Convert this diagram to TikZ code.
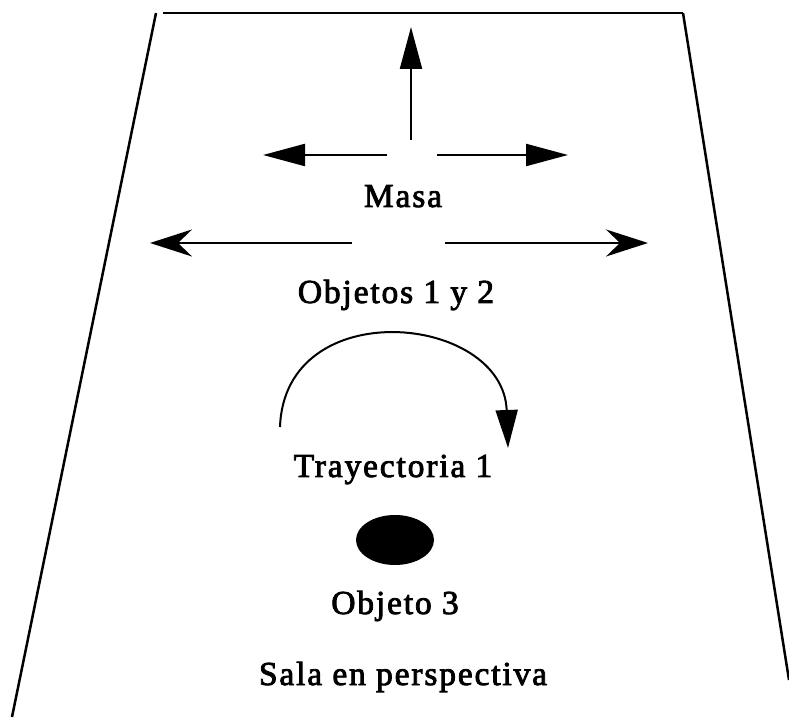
\documentclass[tikz,border=0pt]{standalone}
\usepackage{fontspec}
\setmainfont[LetterSpace=5.5, FakeBold=2.5]{Liberation Serif}
\newcommand{\masadraw}[2]{%
  \draw[masaflecha] (#1) -- (#2);
}
\usepackage{tikz}
\usetikzlibrary{
  arrows.meta,
  calc,
  positioning
}

\begin{document}
\begin{tikzpicture}[x=1pt, y=1pt]

\tikzset{
  rotulo/.style={
    anchor=base,
    inner sep=0pt,
    font=\fontsize{33.5}{39}\selectfont
},
  pared/.style={
    line width=2.5pt,
    line join=miter
},
  masaflecha/.style={
    -{Triangle[length=42pt, width=22pt]},
    line width=2.2pt
},
  objflecha/.style={
    -{Stealth[length=42pt, width=27pt, inset=14pt]},
    line width=2.2pt
},
  trayflecha/.style={
    -{Triangle[length=38pt, width=22pt]},
    line width=2pt
},
  line width=1pt
}

\useasboundingbox (0,0) rectangle (789,717);

% NODES ----------------------------------------------------------

% Nodes texts
\node[rotulo] (masa)  at (403, 510) {Masa};
\node[rotulo] (obj12) at (396, 414) {Objetos 1 y 2};
\node[rotulo] (tray1) at (393, 240) {Trayectoria 1};
\node[rotulo] (obj3)  at (395, 103) {Objeto 3};
\node[rotulo] (sala)  at (403,  32) {Sala en perspectiva};

% Node object 3 (ellipse)
\fill (395, 177) ellipse [x radius=39, y radius=25];

% Coordinates arrows
\coordinate (masac)  at (411, 577);
\coordinate (masan)  at (411, 690);
\coordinate (masaw0) at (387, 562);
\coordinate (masaw)  at (263, 562);
\coordinate (masae0) at (437, 562);
\coordinate (masae)  at (568, 562);
\coordinate (objw0)  at (352, 474);
\coordinate (objw)   at (150, 474);
\coordinate (obje0)  at (445, 474);
\coordinate (obje)   at (648, 474);
\coordinate (tray0)  at (280, 290);
\coordinate (trayf)  at (508, 269);

% DRAWS ---------------------------------------------------------

% Draws room in perspective
\draw[pared] (12, 0) -- (156, 704);
\draw[pared, line width=2pt] (163, 704) -- (683, 704);
\draw[pared] (683, 704) -- (789, 37);

% Draws mass arrows
\masadraw{masac}{masan}
\masadraw{masaw0}{masaw}
\masadraw{masae0}{masae}

% Draws objects 1 and 2
\draw[objflecha] (objw0) -- (objw);
\draw[objflecha] (obje0) -- (obje);

%% Trajectory
\draw[trayflecha]
(tray0)
to[out=88, in=92, looseness=1.5]
(trayf);

\end{tikzpicture}
\end{document}
